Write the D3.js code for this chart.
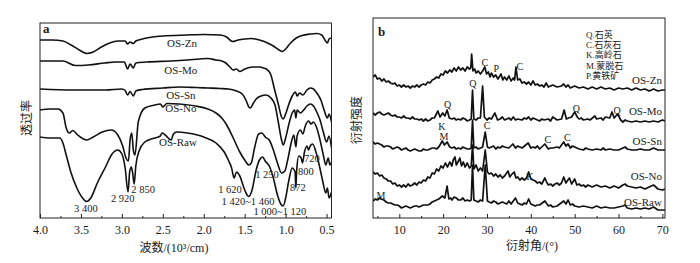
<!DOCTYPE html>
<html>
<head>
<meta charset="utf-8">
<script src="https://cdn.jsdelivr.net/npm/d3@7"></script>
<style>
  body { margin: 0; background: #fff; }
  svg { display: block; }
</style>
</head>
<body>
<svg id="chart" width="700" height="263"></svg>
<script>
// ---- panel a: FTIR, [wavenumber (10^3/cm), transmittance a.u.] ----
const irZn = [[4.00,178],[3.85,178],[3.72,177],[3.62,173],[3.52,168],[3.43,164.5],[3.35,166],[3.25,171],[3.15,175],[3.05,177],[2.96,177],[2.93,174],[2.90,176],[2.86,174.5],[2.83,177],[2.75,179],[2.5,182],[2.2,183],[2.0,183.5],[1.8,183],[1.72,181],[1.65,176.5],[1.58,178],[1.5,179],[1.42,179.5],[1.32,178],[1.22,175],[1.15,172],[1.08,168],[1.04,166.5],[1.00,169],[0.94,175],[0.87,180],[0.80,182.5],[0.70,184],[0.62,184.5],[0.56,183],[0.52,178],[0.49,175],[0.47,179],[0.44,180]];
const irMo = [[4.00,157],[3.72,157],[3.57,152.5],[3.41,153],[3.21,155],[3.08,156],[2.97,156],[2.93,149],[2.90,154],[2.86,150],[2.83,155],[2.7,156],[2.4,157],[2.2,158],[2.05,159],[1.95,159.5],[1.85,158],[1.78,157],[1.73,155],[1.68,151],[1.64,148],[1.60,149],[1.56,146.5],[1.50,149],[1.40,151],[1.32,151],[1.27,150],[1.22,148],[1.18,143],[1.14,130],[1.09,114],[1.05,101],[1.03,99],[1.00,104],[0.96,114],[0.92,122],[0.88,126],[0.86,122],[0.83,125],[0.79,123],[0.74,128],[0.70,130],[0.66,129],[0.62,125],[0.57,118],[0.53,108],[0.49,100],[0.47,104],[0.44,96]];
const irSn = [[4.00,129],[3.6,128],[3.2,128],[3.0,129],[2.96,127.5],[2.93,123],[2.90,126.5],[2.86,122],[2.83,127],[2.75,128.5],[2.5,130],[2.3,131],[2.1,130.5],[1.95,130],[1.8,129.5],[1.7,129],[1.6,127],[1.53,124],[1.48,117],[1.45,111],[1.43,110],[1.40,114],[1.36,119],[1.30,122],[1.24,123],[1.18,120],[1.13,113],[1.09,96],[1.05,78],[1.03,73],[1.00,80],[0.96,94],[0.92,105],[0.89,108],[0.875,100],[0.86,108],[0.82,105],[0.78,108],[0.74,112],[0.70,114],[0.66,112],[0.62,106],[0.58,98],[0.54,86],[0.50,76],[0.47,82],[0.44,70]];
const irNo = [[4.00,108],[3.88,109],[3.78,109],[3.72,105],[3.68,90],[3.64,85],[3.60,87.5],[3.54,83],[3.47,79],[3.43,78],[3.35,81],[3.24,86],[3.13,88],[3.05,83],[2.99,72],[2.95,60],[2.92,57],[2.90,78],[2.88,85],[2.86,68],[2.84,63],[2.80,96],[2.72,110],[2.6,113],[2.53,114],[2.50,111],[2.45,114.5],[2.3,114],[2.1,112],[1.95,109],[1.85,105],[1.78,100],[1.72,93],[1.64,80],[1.56,66],[1.50,58],[1.45,53],[1.42,55],[1.38,70],[1.33,84],[1.29,85],[1.25,81],[1.20,78],[1.15,68],[1.10,55],[1.05,45],[1.01,47],[0.97,60],[0.93,76],[0.90,83],[0.875,71],[0.86,82],[0.82,88],[0.79,84],[0.76,92],[0.72,97],[0.69,94],[0.66,96],[0.62,90],[0.58,78],[0.54,63],[0.51,53],[0.48,60],[0.46,53],[0.44,56]];
const irRaw = [[4.00,81],[3.88,80],[3.76,80],[3.72,75],[3.68,63],[3.62,45],[3.55,30],[3.48,20],[3.43,16.5],[3.38,20],[3.30,35],[3.20,51],[3.12,64],[3.05,68],[3.00,64],[2.96,50],[2.925,26],[2.905,46],[2.885,51],[2.87,46],[2.85,34],[2.83,52],[2.79,67],[2.72,76],[2.62,79.5],[2.53,82],[2.51,85],[2.47,83],[2.40,78],[2.37,84],[2.33,86],[2.2,85],[2.0,81],[1.85,75],[1.75,66],[1.70,58],[1.66,50],[1.63,40],[1.60,46],[1.56,42],[1.50,28],[1.45,21.5],[1.41,28],[1.36,48],[1.32,58],[1.28,61],[1.25,57],[1.20,52],[1.15,40],[1.10,23],[1.06,14],[1.03,12],[1.00,20],[0.96,38],[0.92,50],[0.885,46],[0.875,30],[0.865,48],[0.84,62],[0.81,60],[0.795,55],[0.77,66],[0.74,72],[0.72,68],[0.70,72],[0.67,74],[0.63,66],[0.59,53],[0.55,38],[0.51,25],[0.49,30],[0.47,20],[0.44,26]];

const irLabels = [["OS-Zn",2.266,171.5],["OS-Mo",2.28,144],["OS-Sn",2.28,119.5],["OS-No",2.28,106],["OS-Raw",2.315,72.5]];
const irPeaks = [["3 400",3.44,6],["2 920",2.99,16],["2 850",2.74,25],["1 620",1.68,25],["1 420~1 460",1.46,13],["1 000~1 120",1.07,3],["1 250",1.228,40],["872",0.85,27],["800",0.752,43],["720",0.679,56]];
const irTicks = [4.0,3.5,3.0,2.5,2.0,1.5,1.0,0.5];
const irMinor = [3.75,3.25,2.75,2.25,1.75,1.25,0.75];

// ---- panel b: XRD, [2theta (deg), intensity a.u.] ----
const xrdZn = [[4,141],[4.5,143],[5,139],[5.5,140],[6,137],[6.5,139],[7,136],[7.5,137],[8,135],[8.5,134],[9,135],[9.5,132],[10,133],[10.5,131],[11,133],[11.5,131],[12,132],[12.5,130],[13,132],[13.5,131],[14,133],[14.5,131],[15,133],[15.5,134],[16,133],[16.5,136],[17,135],[17.5,138],[18,139],[18.5,141],[19,140],[19.5,144],[20,143],[20.5,147],[21,145],[21.5,148],[22,146],[22.5,150],[23,147],[23.5,151],[24,148],[24.5,150],[25,147],[25.5,151],[26,149],[26.3,150],[26.5,164],[26.8,147],[27.2,149],[27.5,145],[28,147],[28.5,144],[29,147],[29.5,151],[29.9,144],[30.3,146],[30.7,141],[31,145],[31.5,141],[32,143],[32.5,139],[33.2,144],[33.6,138],[34,141],[34.5,138],[35,142],[35.5,137],[36,140],[36.3,138],[36.6,151],[37,138],[37.5,139],[38,135],[38.5,136],[39,134],[39.5,136],[40,133],[40.5,137],[41,133],[41.5,134],[42,132],[42.5,133],[43,131],[43.5,135],[44,131],[45,133],[46,131],[47,132],[47.5,134],[48,131],[48.5,133],[49,130],[50,132],[51,130],[52,131],[53,129],[54,131],[55,129],[56,131],[57,129],[58,130],[59,128],[60,130],[61,129],[62,130],[63,128],[64,130],[65,128],[66,129],[67,127],[68,129],[69,127],[70,128],[70.6,128]];
const xrdMo = [[4,105],[4.5,103],[5,105],[5.5,106],[6,104],[6.5,103],[7,104],[7.5,105],[8,103],[8.5,102],[9,103],[9.5,101],[10,101],[10.5,100],[11,102],[11.5,100],[12,100],[12.5,99],[13,101],[13.5,99],[14,99],[14.5,98],[15,99],[15.5,97],[16,99],[16.5,97],[17,98],[17.5,100],[18,100],[18.8,107],[19.3,101],[19.9,105],[20.4,102],[20.9,108],[21.4,100],[22,99],[22.5,100],[23,98],[23.5,99],[24,98],[24.5,100],[25,99],[25.5,97],[26,98],[26.4,99],[26.7,128],[27,99],[27.5,98],[28,100],[28.5,100],[29.0,132],[29.4,101],[30,98],[30.5,100],[31,99],[31.8,105],[32.4,98],[33,99],[33.5,101],[34,98],[35,100],[35.5,98],[36,101],[36.5,98],[37,99],[38,98],[38.5,100],[39,99],[39.5,101],[40,98],[40.5,100],[41,99],[42,97],[42.5,99],[43,98],[44,99],[44.5,97],[45,101],[46,98],[47,99],[47.6,108],[48.1,99],[48.6,100],[49.3,101],[50.0,106],[50.6,101],[51,99],[51.5,100],[52,98],[53,99],[53.5,98],[54.6,102],[55,99],[56,100],[56.5,98],[57,101],[58,100],[58.5,106],[59,100],[59.8,104],[60.5,98],[61,96],[61.5,98],[62,97],[63,96],[64,97],[65,96],[66,97],[67,96],[68,97],[69,96],[70,98],[70.6,97]];
const xrdSn = [[4,76],[4.5,74],[5,75],[5.5,74],[6,73],[6.5,71],[7,72],[7.5,72],[8,71],[8.5,69],[9,70],[9.5,71],[10,70],[10.5,68],[11,69],[11.5,70],[12,68],[12.5,67],[13,68],[13.5,69],[14,68],[14.5,67],[15,67],[15.5,69],[16,68],[16.5,68],[17,69],[17.5,70],[18,70],[18.5,69],[19,71],[19.8,77],[20.3,73],[20.9,76],[21.5,71],[22,70],[22.5,71],[23,69],[23.5,70],[24,69],[24.5,71],[25,70],[25.5,69],[26,69],[26.4,70],[26.7,98],[27,70],[27.5,71],[28,69],[28.5,70],[29,71],[29.6,86],[30.1,71],[30.5,70],[31,71],[31.5,72],[32,69],[32.5,71],[33,70],[33.5,72],[34,71],[35,70],[35.9,74],[36.5,70],[37,72],[37.5,71],[38,70],[39.4,75],[40,70],[40.5,71],[41,70],[41.5,72],[42,69],[43.2,74],[44,69],[44.5,70],[45,70],[46,71],[46.5,70],[47.5,76],[48,72],[48.5,74],[49,70],[49.5,72],[50,71],[51,69],[52,68],[52.5,70],[53,69],[54,68],[55,69],[56,68],[56.5,70],[57,68],[58,69],[59,68],[60,68],[61,70],[61.5,71],[62,69],[63,68],[64,68],[65,69],[66,68],[67,68],[68,70],[69,68],[70,68],[70.6,68]];
const xrdNo = [[4,46],[4.5,44],[5,45],[5.5,42],[6,43],[6.5,40],[7,39],[7.5,37],[8,37],[8.5,34],[9,35],[9.5,32],[10,33],[10.5,31],[11,33],[11.5,31],[12,34],[12.5,32],[13,33],[13.5,35],[14,33],[14.5,36],[15,35],[15.5,38],[16,37],[16.5,41],[17,40],[17.5,45],[18,44],[18.5,49],[19,47],[19.5,52],[20,50],[20.5,55],[21,51],[21.5,56],[22,52],[22.3,58],[22.7,61],[23,53],[23.5,57],[23.8,60],[24.2,52],[24.6,56],[25,51],[25.5,55],[26,50],[26.4,52],[26.7,73],[27,49],[27.5,53],[28,47],[28.5,50],[29,47],[29.6,68],[30.1,46],[30.5,44],[31,45],[31.5,42],[32,44],[32.5,41],[33,43],[33.5,40],[34,42],[34.8,47],[35.2,41],[35.5,43],[36.2,46],[36.6,40],[37,41],[37.5,38],[38,40],[38.5,38],[39,40],[39.5,46],[40,39],[40.5,38],[41,37],[41.5,35],[42,36],[42.5,34],[43.2,40],[43.7,35],[44,33],[44.5,34],[45,32],[45.5,34],[46,35],[46.5,33],[47,35],[47.5,41],[48,35],[48.3,37],[48.8,40],[49.3,34],[50,39],[50.5,33],[51,34],[51.5,32],[52,33],[52.5,31],[53,33],[54,31],[55,33],[56,31],[57,32],[58,30],[59,32],[60,30],[61,33],[61.5,34],[62,32],[63,31],[64,30],[65,31],[66,29],[67,31],[68,33],[69,29],[70,28],[70.6,29]];
const xrdRaw = [[4,17],[4.5,19],[5,18],[5.5,20],[5.8,19],[6.5,18],[7,16],[7.5,15],[8,15],[8.5,14],[9,13],[9.5,13],[10,12],[10.5,10],[11,11],[11.5,12],[12,11],[12.5,10],[13,11],[13.5,12],[14,12],[14.5,11],[15,12],[15.5,13],[16,13],[16.5,13],[17,14],[17.5,16],[18,17],[18.5,18],[19,19],[19.3,20],[19.8,22],[20.4,20],[20.9,32],[21.3,19],[21.7,20],[22,18],[22.5,21],[23,20],[23.5,18],[24,18],[24.5,20],[25,17],[25.5,18],[26,17],[26.4,18],[26.7,53],[27,18],[27.5,17],[28,16],[28.5,18],[29,17],[29.6,53],[30.1,17],[30.5,16],[31,15],[31.5,17],[32,16],[32.5,14],[33,15],[33.5,16],[34,15],[34.5,14],[35,17],[35.5,14],[36,17],[36.5,20],[37,15],[38,13],[38.5,15],[39,14],[39.5,19],[40,14],[41,12],[41.5,13],[42,13],[43.2,17],[44,12],[44.5,13],[45,11],[46,12],[47.5,17],[48,14],[48.5,18],[49,13],[49.5,14],[50,12],[51,11],[52,12],[53,11],[54,10],[55,12],[56,10],[57,11],[58,10],[59,10],[60,11],[61,12],[61.5,13],[62,10],[63,9],[64,10],[65,9],[66,10],[67,9],[68,11],[69,8],[70,8],[70.6,8]];

const xrdLabels = [["OS-Zn",69.9,134.5],["OS-Mo",69.9,103.5],["OS-Sn",69.9,73.5],["OS-No",69.9,38],["OS-Raw",69.9,12]];
const xrdPeaks = [["Q",26.8,131.5],["C",29.5,152.5],["P",32.1,146.5],["C",37.5,148],["Q",21.0,110],["K",19.7,88.5],["C",30.0,89.5],["Q",50.4,106],["Q",59.7,104],["M",20.2,78.5],["C",43.9,75],["C",48.3,77],["K",39.8,38.5],["M",5.8,19.5]];
const xrdTicks = [10,20,30,40,50,60,70];
const xrdMinor = [5,15,25,35,45,55,65];
const minerals = ["Q.石英","C.石灰石","K.高岭石","M.蒙脱石","P.黄铁矿"];

// ---- drawing ----
const svg = d3.select('#chart');
const font = '"Liberation Serif","Noto Sans CJK SC",serif';
const ink = '#1a1a1a';

function panel(opt) {
  const { x, y, series, labels, peaks, ticks, minor, fmt, curve, lw, id } = opt;
  const [x0, x1] = x.range();
  const [y0, y1] = y.range();

  svg.append('clipPath').attr('id', id)
    .append('rect').attr('x', x0).attr('y', y1).attr('width', x1 - x0).attr('height', y0 - y1);

  const line = d3.line().x(d => x(d[0])).y(d => y(d[1])).curve(curve);
  svg.append('g').attr('clip-path', `url(#${id})`)
    .selectAll('path').data(series).enter().append('path')
    .attr('d', line)
    .attr('fill', 'none')
    .attr('stroke', '#111')
    .attr('stroke-width', lw)
    .attr('stroke-linejoin', 'round');

  // frame
  svg.append('rect')
    .attr('x', x0).attr('y', y1).attr('width', x1 - x0).attr('height', y0 - y1)
    .attr('fill', 'none').attr('stroke', '#222').attr('stroke-width', 1);

  // bottom axis, ticks pointing inward
  const ax = svg.append('g').attr('transform', `translate(0,${y0})`)
    .call(d3.axisBottom(x).tickValues(ticks).tickSize(-4).tickPadding(7).tickFormat(fmt));
  ax.select('.domain').remove();
  ax.selectAll('line').attr('stroke', '#222');
  ax.selectAll('text').attr('font-family', font).attr('font-size', 12).attr('fill', ink);

  const mx = svg.append('g').attr('transform', `translate(0,${y0})`)
    .call(d3.axisBottom(x).tickValues(minor).tickSize(-2).tickFormat(''));
  mx.select('.domain').remove();
  mx.selectAll('line').attr('stroke', '#222');

  svg.append('g').selectAll('text').data(labels).enter().append('text')
    .attr('x', d => x(d[1])).attr('y', d => y(d[2]))
    .attr('text-anchor', opt.labelAnchor)
    .attr('font-family', font).attr('font-size', 11).attr('fill', ink)
    .text(d => d[0]);

  svg.append('g').selectAll('text').data(peaks).enter().append('text')
    .attr('x', d => x(d[1])).attr('y', d => y(d[2]))
    .attr('text-anchor', 'middle')
    .attr('font-family', font).attr('font-size', opt.peakSize).attr('fill', ink)
    .text(d => d[0]);
}

const xA = d3.scaleLinear().domain([4.0, 0.44]).range([40, 331.5]);
const yA = d3.scaleLinear().domain([0, 195]).range([218, 23]);
panel({
  id: 'clipA', x: xA, y: yA,
  series: [irZn, irMo, irSn, irNo, irRaw],
  labels: irLabels, peaks: irPeaks, labelAnchor: 'middle', peakSize: 10.5,
  ticks: irTicks, minor: irMinor, fmt: d3.format('.1f'),
  curve: d3.curveMonotoneX, lw: 1.6
});

const xB = d3.scaleLinear().domain([4, 70.6]).range([373, 665]);
const yB = d3.scaleLinear().domain([0, 200]).range([218, 18]);
panel({
  id: 'clipB', x: xB, y: yB,
  series: [xrdZn, xrdMo, xrdSn, xrdNo, xrdRaw],
  labels: xrdLabels, peaks: xrdPeaks, labelAnchor: 'end', peakSize: 10,
  ticks: xrdTicks, minor: xrdMinor, fmt: d3.format('d'),
  curve: d3.curveLinear, lw: 1.7
});

// mineral key
svg.append('g').selectAll('text').data(minerals).enter().append('text')
  .attr('x', 586).attr('y', (d, i) => 37.5 + i * 10.4)
  .attr('font-family', font).attr('font-size', 9).attr('fill', ink)
  .text(d => d);

// panel letters
svg.append('text').attr('x', 43).attr('y', 33)
  .attr('font-family', font).attr('font-size', 13).attr('font-weight', 'bold').attr('fill', ink).text('a');
svg.append('text').attr('x', 378).attr('y', 36)
  .attr('font-family', font).attr('font-size', 13).attr('font-weight', 'bold').attr('fill', ink).text('b');

// axis titles
svg.append('text').attr('x', 174).attr('y', 252).attr('text-anchor', 'middle')
  .attr('font-family', font).attr('font-size', 12).attr('fill', ink).text('波数/(10³/cm)');
svg.append('text').attr('x', 532).attr('y', 250).attr('text-anchor', 'middle')
  .attr('font-family', font).attr('font-size', 12).attr('fill', ink).text('衍射角/(°)');
svg.append('text').attr('transform', 'translate(31,118) rotate(-90)').attr('text-anchor', 'middle')
  .attr('font-family', font).attr('font-size', 12).attr('fill', ink).text('透过率');
svg.append('text').attr('transform', 'translate(361,120) rotate(-90)').attr('text-anchor', 'middle')
  .attr('font-family', font).attr('font-size', 12).attr('fill', ink).text('衍射强度');
</script>
</body>
</html>
